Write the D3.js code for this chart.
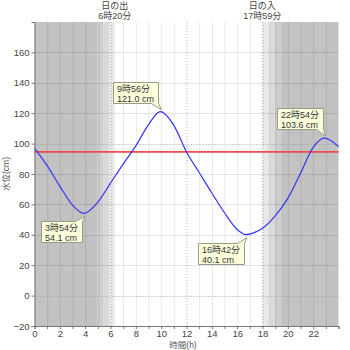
<!DOCTYPE html>
<html>
<head>
<meta charset="utf-8">
<script src="https://cdn.jsdelivr.net/npm/d3@7"></script>
<style>
  html, body { margin: 0; padding: 0; background: #fff; }
  svg { display: block; font-family: "Liberation Sans", "Noto Sans CJK JP", sans-serif; }
</style>
</head>
<body>
<svg id="chart" width="350" height="350"></svg>
<script>
// Tide level over one day (hours, cm)
const tideHours  = [0, 1, 2, 3, 3.9, 5, 6, 7, 8, 9, 9.933, 11, 12, 13, 14, 15, 16, 16.7, 17.3, 18, 19, 20, 21, 22, 22.9, 24];
const tideLevels = [97, 85.5, 72, 59.5, 54.1, 61.5, 74, 86.5, 98.5, 112.5, 121.0, 112, 94.5, 81, 67.5, 54.5, 43.5, 40.1, 41.3, 44.3, 52.5, 64, 80.5, 97.5, 103.6, 98];

// High / low water annotations
const extremeLabels = ["3時54分", "9時56分", "16時42分", "22時54分"];
const extremeHours  = [3 + 54 / 60, 9 + 56 / 60, 16 + 42 / 60, 22 + 54 / 60];
const extremeLevels = [54.1, 121.0, 40.1, 103.6];
const extremeKinds  = ["low", "high", "low", "high"];

// Reference level (red line)
const referenceLevel = 94.5;

// Sun times
const sunLabels = ["日の出", "日の入"];
const sunTimeLabels = ["6時20分", "17時59分"];
const sunHours = [6 + 20 / 60, 17 + 59 / 60];
// Twilight boundaries: night -> astronomical -> nautical -> civil -> day
const morningTwilight = [4.95, 5.42, 5.9, 6 + 20 / 60];
const eveningTwilight = [17 + 59 / 60, 18.45, 18.95, 19.43];

// Axis ticks
const xTickLabels = [0, 2, 4, 6, 8, 10, 12, 14, 16, 18, 20, 22];
const yTickLabels = [-20, 0, 20, 40, 60, 80, 100, 120, 140, 160];

const svg = d3.select("#chart");
const plotLeft = 34.5, plotRight = 338.5, plotTop = 22, plotBottom = 326;

const x = d3.scaleLinear().domain([0, 24]).range([plotLeft, plotRight]);
const y = d3.scaleLinear().domain([-20, 180]).range([plotBottom, plotTop]);

// Night and twilight shading
const shades = ["#c2c2c2", "#cdcdcd", "#d9d9d9", "#e9e9e9"];
const bands = [];
bands.push({ a: 0, b: morningTwilight[0], c: shades[0] });
for (let i = 0; i < 3; i++) bands.push({ a: morningTwilight[i], b: morningTwilight[i + 1], c: shades[i + 1] });
for (let i = 0; i < 3; i++) bands.push({ a: eveningTwilight[i], b: eveningTwilight[i + 1], c: shades[3 - i] });
bands.push({ a: eveningTwilight[3], b: 24, c: shades[0] });

svg.append("g").selectAll("rect").data(bands).join("rect")
  .attr("x", d => x(d.a)).attr("width", d => x(d.b) - x(d.a))
  .attr("y", plotTop).attr("height", plotBottom - plotTop)
  .attr("fill", d => d.c);

// Grid lines
const grid = svg.append("g");
const hours = d3.range(1, 24);
grid.selectAll("line.v").data(hours).join("line")
  .attr("x1", d => x(d) + 0.5).attr("x2", d => x(d) + 0.5)
  .attr("y1", plotTop).attr("y2", plotBottom)
  .attr("stroke", d => d % 6 === 0 ? "#a8a8a8" : "rgba(0,0,0,0.09)")
  .attr("stroke-width", 1)
  .attr("stroke-dasharray", d => d % 6 === 0 ? "1,2" : null);
const levels = d3.range(0, 180, 20);
grid.selectAll("line.h").data(levels).join("line")
  .attr("x1", plotLeft).attr("x2", plotRight)
  .attr("y1", d => Math.round(y(d)) + 0.5).attr("y2", d => Math.round(y(d)) + 0.5)
  .attr("stroke", d => d % 100 === 0 ? "#a0a0a0" : "rgba(0,0,0,0.1)")
  .attr("stroke-width", 1)
  .attr("stroke-dasharray", d => d % 100 === 0 ? "1,2" : null);

// Reference level
svg.append("line")
  .attr("x1", plotLeft).attr("x2", plotRight)
  .attr("y1", y(referenceLevel)).attr("y2", y(referenceLevel))
  .attr("stroke", "#f04a4a").attr("stroke-width", 1.8);

// Tide curve
const tide = tideHours.map((h, i) => [h, tideLevels[i]]);
svg.append("path")
  .datum(tide)
  .attr("fill", "none")
  .attr("stroke", "#3434f4")
  .attr("stroke-width", 1.2)
  .attr("d", d3.line().x(d => x(d[0])).y(d => y(d[1])).curve(d3.curveMonotoneX));

// Axes
const xAxis = d3.axisBottom(x).tickValues(d3.range(0, 25)).tickSize(3)
  .tickFormat(d => xTickLabels.includes(d) ? d : "");
const gx = svg.append("g").attr("transform", `translate(0,${plotBottom})`).call(xAxis);
const yAxis = d3.axisLeft(y).tickValues(yTickLabels).tickSize(3);
const gy = svg.append("g").attr("transform", `translate(${plotLeft},0)`).call(yAxis);
[gx, gy].forEach(g => {
  g.select(".domain").attr("stroke", "#777");
  g.selectAll(".tick line").attr("stroke", "#777");
  g.selectAll(".tick text").attr("fill", "#444").attr("font-size", 9.5)
    .attr("font-family", "Liberation Sans, sans-serif");
});
gy.selectAll(".tick text").attr("x", -5);
gx.selectAll(".tick text").attr("y", 4);

// Axis titles
svg.append("text")
  .attr("x", 183).attr("y", 348)
  .attr("text-anchor", "middle").attr("font-size", 8.5).attr("fill", "#555")
  .text("時間(h)");
svg.append("text")
  .attr("transform", `translate(9,${(plotTop + plotBottom) / 2}) rotate(-90)`)
  .attr("text-anchor", "middle").attr("font-size", 8.5).attr("fill", "#555")
  .text("水位(cm)");

// Sunrise / sunset headings
const sun = svg.append("g").selectAll("g").data(sunHours).join("g")
  .attr("transform", d => `translate(${x(d)},0)`);
sun.append("text").attr("y", 9).attr("text-anchor", "middle")
  .attr("font-size", 9).attr("fill", "#444").text((d, i) => sunLabels[i]);
sun.append("text").attr("y", 18.5).attr("text-anchor", "middle")
  .attr("font-size", 9).attr("fill", "#444").text((d, i) => sunTimeLabels[i]);

// Callouts for high and low water
const notes = svg.append("g").selectAll("g").data(extremeHours).join("g");
notes.each(function (h, i) {
  const g = d3.select(this);
  const px = x(h), py = y(extremeLevels[i]);
  const line1 = extremeLabels[i];
  const line2 = extremeLevels[i].toFixed(1) + " cm";
  const t = g.append("text").attr("font-size", 9).attr("fill", "#333");
  t.append("tspan").attr("x", 0).attr("dy", 0).text(line1);
  t.append("tspan").attr("x", 0).attr("dy", 10).text(line2);
  const bb = t.node().getBBox();
  const w = Math.ceil(bb.width) + 7, hgt = 21;
  const x1 = Math.round(px) - 1.5, x0 = x1 - w;
  let y0, y1, path;
  if (extremeKinds[i] === "high") {
    y1 = Math.round(py) - 8.5; y0 = y1 - hgt;
    path = `M${x0},${y0}H${x1}V${y1}L${px + 1},${py - 2}L${x1 - 7},${y1}H${x0}Z`;
  } else {
    y0 = Math.round(py) + 8.5; y1 = y0 + hgt;
    path = `M${x0},${y0}H${x1 - 7}L${px + 1},${py + 3}L${x1},${y0}V${y1}H${x0}Z`;
  }
  g.insert("path", "text").attr("d", path)
    .attr("fill", "#ffffdc").attr("stroke", "#9a9a8a").attr("stroke-width", 1);
  t.attr("transform", `translate(${x0 + 3.5},${y0 + 9})`);
});
</script>
</body>
</html>
